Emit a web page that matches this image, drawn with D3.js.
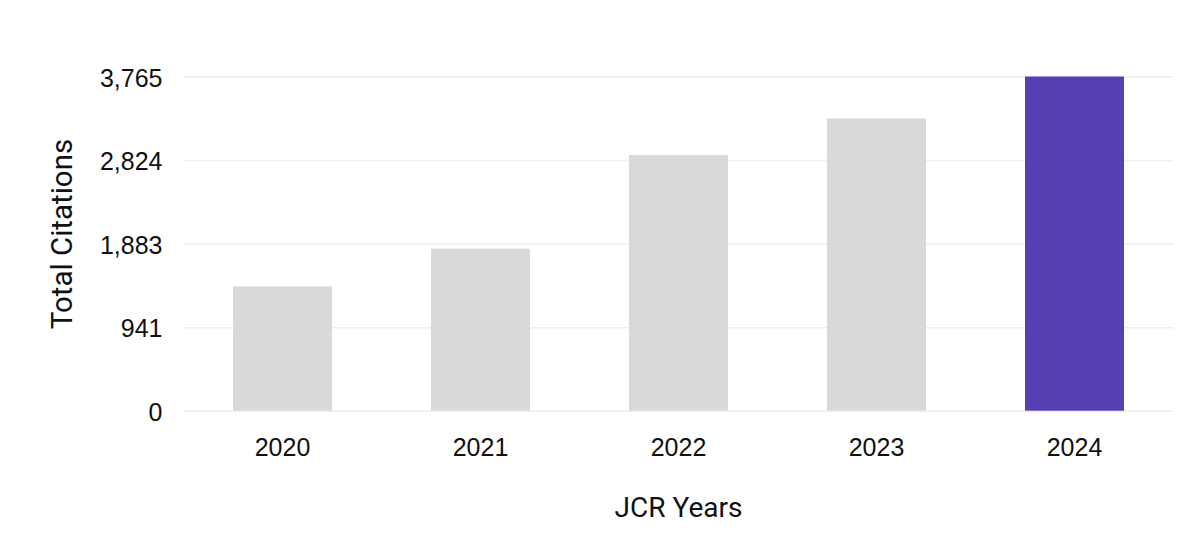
<!DOCTYPE html>
<html>
<head>
<meta charset="utf-8">
<script src="https://cdn.jsdelivr.net/npm/d3@7"></script>
<style>
  html, body { margin: 0; padding: 0; background: #fff; }
  svg { display: block; font-family: Roboto, "Noto Sans", sans-serif; }
</style>
</head>
<body>
<svg id="chart" width="1202" height="556"></svg>
<script>
const years = ["2020", "2021", "2022", "2023", "2024"];
const citations = [1400, 1825, 2880, 3292, 3765];
const highlightYear = "2024";
const yTickValues = [0, 941, 1883, 2824, 3765];
const yTickLabels = ["0", "941", "1,883", "2,824", "3,765"];
const yMax = 3765;

const svg = d3.select("#chart");
const margin = { left: 183.5, right: 1202 - 1173.5, top: 76.5, bottom: 556 - 410.7 };
const W = 1202, H = 556;

const x = d3.scaleBand()
  .domain(years)
  .range([margin.left, W - margin.right])
  .paddingInner(0.5)
  .paddingOuter(0.25);

const y = d3.scaleLinear()
  .domain([0, yMax])
  .range([H - margin.bottom, margin.top]);

// gridlines + y tick labels
const yAxis = d3.axisLeft(y)
  .tickValues(yTickValues)
  .tickSize(-(W - margin.left - margin.right))
  .tickPadding(21)
  .tickFormat((d, i) => yTickLabels[i]);

const gy = svg.append("g")
  .attr("transform", `translate(${margin.left},0)`)
  .call(yAxis);
gy.select(".domain").remove();
gy.selectAll(".tick line").attr("stroke", "#eeeeee").attr("stroke-width", 1.5);
gy.selectAll(".tick text")
  .attr("fill", "#111")
  .attr("font-size", 25)
  .attr("dy", "0.38em");

// bars
svg.append("g").selectAll("rect")
  .data(years.map((yr, i) => ({ yr, v: citations[i] })))
  .join("rect")
  .attr("x", d => x(d.yr))
  .attr("width", x.bandwidth())
  .attr("y", d => y(d.v))
  .attr("height", d => y(0) - y(d.v))
  .attr("fill", d => d.yr === highlightYear ? "#573fb6" : "#d9d9d9");

// x axis
const xAxis = d3.axisBottom(x).tickSize(0).tickPadding(28);
const gx = svg.append("g")
  .attr("transform", `translate(0,${y(0)})`)
  .call(xAxis);
gx.select(".domain").remove();
gx.selectAll(".tick text")
  .attr("fill", "#111")
  .attr("font-size", 25);

// axis titles
svg.append("text")
  .attr("x", (margin.left + W - margin.right) / 2)
  .attr("y", 517)
  .attr("text-anchor", "middle")
  .attr("font-size", 28)
  .attr("fill", "#111")
  .text("JCR Years");

svg.append("text")
  .attr("transform", `translate(72,234) rotate(-90)`)
  .attr("text-anchor", "middle")
  .attr("font-size", 29.5)
  .attr("fill", "#111")
  .text("Total Citations");
</script>
</body>
</html>
